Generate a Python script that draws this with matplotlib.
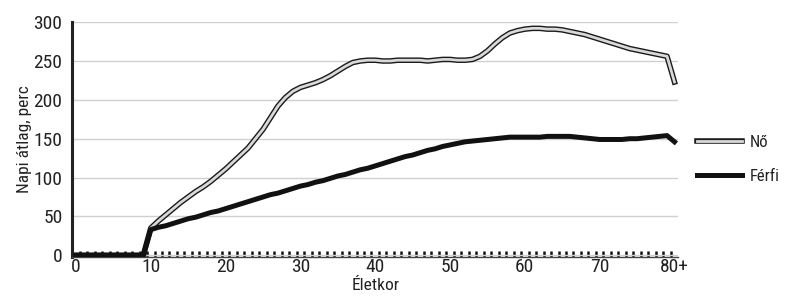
import matplotlib
matplotlib.use('Agg')
import matplotlib.pyplot as plt
import matplotlib.patheffects as pe
import numpy as np

plt.rcParams['font.family'] = ['Roboto Condensed', 'Liberation Sans Narrow', 'DejaVu Sans']
plt.rcParams['font.stretch'] = 'condensed'

ages = list(range(0, 81))
tick_pos = [0, 10, 20, 30, 40, 50, 60, 70, 80]
tick_labels = ['0', '10', '20', '30', '40', '50', '60', '70', '80+']

# napi atlag perc, eletkor szerint (0..80+)
no = [0] * 10 + [
    35, 44, 52, 60, 68, 75, 82, 88, 95, 103,
    111, 120, 129, 138, 150, 162, 177, 192, 203, 211,
    216, 219, 222, 226, 231, 237, 243, 248, 250, 251,
    251, 250, 250, 251, 251, 251, 251, 250, 251, 252,
    252, 251, 251, 252, 256, 263, 272, 280, 286, 289,
    291, 292, 292, 291, 291, 290, 288, 286, 284, 281,
    278, 275, 272, 269, 266, 264, 262, 260, 258, 256,
    223]
ferfi = [0] * 10 + [
    33, 36, 38, 41, 44, 47, 49, 52, 55, 57,
    60, 63, 66, 69, 72, 75, 78, 80, 83, 86,
    89, 91, 94, 96, 99, 102, 104, 107, 110, 112,
    115, 118, 121, 124, 127, 129, 132, 135, 137, 140,
    142, 144, 146, 147, 148, 149, 150, 151, 152, 152,
    152, 152, 152, 153, 153, 153, 153, 152, 151, 150,
    149, 149, 149, 149, 150, 150, 151, 152, 153, 154,
    146]

fig = plt.figure(figsize=(7.85, 2.99), dpi=100)
ax = fig.add_axes([0.092, 0.141, 0.772, 0.785])

# Nő: dupla vonal (fekete kontur, vilagos szurke belseje)
ax.plot(ages, no, color='#d9d9d9', linewidth=2.0,
        path_effects=[pe.Stroke(linewidth=4.0, foreground='#1a1a1a'), pe.Normal()],
        label='Nő', zorder=3)
ax.plot(ages, ferfi, color='#111111', linewidth=3.6, label='Férfi', zorder=4)

ax.set_xlim(-0.5, 80.5)
ax.set_ylim(-2, 300)
ax.set_yticks([0, 50, 100, 150, 200, 250, 300])
ax.set_xticks(tick_pos)
ax.set_xticklabels(tick_labels)
ax.set_xticks(np.arange(0.5, 80.5, 1), minor=True)

ax.grid(axis='y', color='#d0d0d0', linewidth=1)
ax.set_axisbelow(True)
for s in ['top', 'right']:
    ax.spines[s].set_visible(False)
ax.spines['left'].set_linewidth(2.2)
ax.spines['left'].set_color('#222222')
ax.spines['bottom'].set_linewidth(1)
ax.spines['bottom'].set_color('#444444')

ax.tick_params(axis='y', length=0, labelsize=14, pad=7, labelcolor='#222222')
ax.tick_params(axis='x', which='major', length=0, labelsize=14, pad=1, labelcolor='#222222')
ax.tick_params(axis='x', which='minor', direction='in', length=4, width=1.8, color='#111111')

ax.set_ylabel('Napi átlag, perc', fontsize=12.5, labelpad=1, color='#222222')
ax.set_xlabel('Életkor', fontsize=12.5, labelpad=1, color='#222222')

leg = ax.legend(loc='center left', bbox_to_anchor=(1.006, 0.415), frameon=False,
                fontsize=12, handlelength=2.7, handletextpad=0.45, labelspacing=1.15)
for t in leg.get_texts():
    t.set_color('#222222')

fig.savefig('out.png', dpi=100)
